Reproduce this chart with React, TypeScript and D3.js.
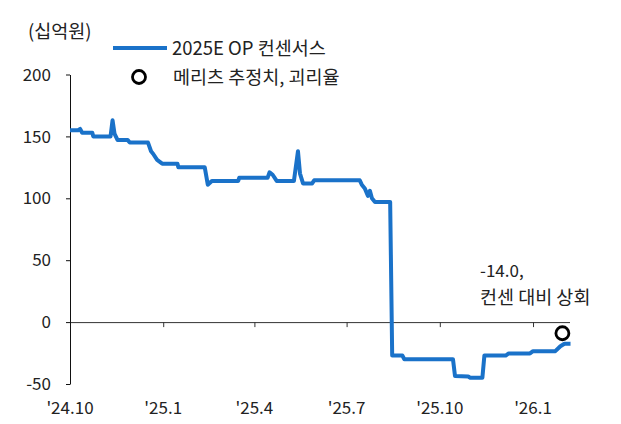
import React, { useEffect, useRef } from 'react';
import { scaleTime, scaleLinear, line, select, axisLeft, axisBottom, timeParse, curveLinear } from 'd3';

// consensus path (date, 2025E OP in 십억원)
const opDates = [
  '2024-10-01', '2024-10-09', '2024-10-11', '2024-10-13', '2024-10-23', '2024-10-24',
  '2024-11-10', '2024-11-12', '2024-11-14', '2024-11-17', '2024-11-27', '2024-11-29',
  '2024-12-17', '2024-12-20', '2024-12-22', '2024-12-26', '2024-12-31',
  '2025-01-15', '2025-01-16', '2025-02-11', '2025-02-14', '2025-02-18',
  '2025-03-16', '2025-03-17', '2025-04-14', '2025-04-16', '2025-04-19', '2025-04-23',
  '2025-05-10', '2025-05-14', '2025-05-16', '2025-05-19', '2025-05-28', '2025-05-30',
  '2025-07-14', '2025-07-16', '2025-07-19', '2025-07-22', '2025-07-24', '2025-07-26', '2025-07-29',
  '2025-08-13', '2025-08-15', '2025-08-25', '2025-08-27',
  '2025-10-14', '2025-10-16', '2025-10-29', '2025-10-31', '2025-11-12', '2025-11-14',
  '2025-12-05', '2025-12-08', '2025-12-29', '2026-01-01', '2026-01-23', '2026-01-28',
  '2026-02-01', '2026-02-07',
];
const opValues = [
  155, 155, 156, 153, 153, 150,
  150, 163, 152, 147, 147, 145,
  145, 138, 136, 131, 128,
  128, 125, 125, 111, 114,
  114, 116.5, 116.5, 121, 119, 114,
  114, 138, 120, 112, 112, 114.5,
  114.5, 111, 108, 102, 106, 100, 97,
  97, -27, -27, -30,
  -30, -43.5, -44, -45, -45, -27,
  -27, -25.3, -25.3, -23.5, -23.5, -19.5,
  -17.5, -17.5,
];

const meritzDate = '2026-01-30';
const meritzValue = -9;

const yTicks = [-50, 0, 50, 100, 150, 200];
const xTickDates = ['2024-10-01', '2025-01-01', '2025-04-01', '2025-07-01', '2025-10-01', '2026-01-01'];
const xTickLabels = ["'24.10", "'25.1", "'25.4", "'25.7", "'25.10", "'26.1"];

const FONT = '"Noto Sans CJK KR", "Noto Sans", sans-serif';
const BLUE = '#1a72c9';
const TEXT = '#222';

const parse = timeParse('%Y-%m-%d');

export default function App() {
  const yAxisRef = useRef<SVGGElement>(null);
  const zeroAxisRef = useRef<SVGGElement>(null);

  const x = scaleTime()
    .domain([parse('2024-10-01')!, parse('2026-02-06')!])
    .range([70, 569.5]);
  const y = scaleLinear().domain([-50, 200]).range([384, 74.5]);

  const pts = opDates.map((d, i) => ({ date: parse(d)!, value: opValues[i] }));
  const lineFn = line<{ date: Date; value: number }>()
    .curve(curveLinear)
    .x(d => x(d.date))
    .y(d => y(d.value));

  useEffect(() => {
    const ya = select(yAxisRef.current);
    ya.call(axisLeft(y).tickValues(yTicks).tickSize(4).tickSizeOuter(0).tickFormat(() => ''));
    ya.select('.domain').attr('stroke', '#111');
    ya.selectAll('.tick line').attr('stroke', '#111');

    const za = select(zeroAxisRef.current);
    za.call(
      axisBottom(x)
        .tickValues(xTickDates.map(d => parse(d)!))
        .tickSize(5)
        .tickSizeOuter(0)
        .tickFormat(() => '')
    );
    za.select('.domain').attr('stroke', '#333');
    za.selectAll('.tick line').attr('stroke', '#333');
  }, []);

  return (
    <svg width={621} height={424} style={{ position: 'absolute', left: 0, top: 0, background: '#fff' }}>
      <g fontFamily={FONT} fill={TEXT} fontSize={17}>
        <text x={28} y={38} fontSize={18.5}>(십억원)</text>

        {yTicks.map(t => (
          <text key={t} x={51} y={y(t)} dy="0.36em" textAnchor="end">{t}</text>
        ))}

        {xTickDates.map((d, i) => (
          <text key={d} x={x(parse(d)!)} y={414} textAnchor="middle">{xTickLabels[i]}</text>
        ))}

        {/* legend */}
        <line x1={113} x2={167} y1={48} y2={48} stroke={BLUE} strokeWidth={4} />
        <text x={172} y={48} dy="0.36em" fontSize={18.5}>2025E OP 컨센서스</text>
        <circle cx={139} cy={77} r={6.5} fill="#fff" stroke="#000" strokeWidth={2.8} />
        <text x={173} y={77} dy="0.36em" fontSize={18.5}>메리츠 추정치, 괴리율</text>

        {/* annotation */}
        <text x={480} y={277}>-14.0,</text>
        <text x={480} y={304} fontSize={18.5}>컨센 대비 상회</text>
      </g>

      <g ref={zeroAxisRef} transform={`translate(0, ${y(0)})`} />
      <g ref={yAxisRef} transform="translate(70, 0)" />

      <path d={lineFn(pts) || ''} fill="none" stroke={BLUE} strokeWidth={4} strokeLinejoin="round" />

      <circle cx={x(parse(meritzDate)!)} cy={y(meritzValue)} r={6.5} fill="#fff" stroke="#000" strokeWidth={2.8} />
    </svg>
  );
}
